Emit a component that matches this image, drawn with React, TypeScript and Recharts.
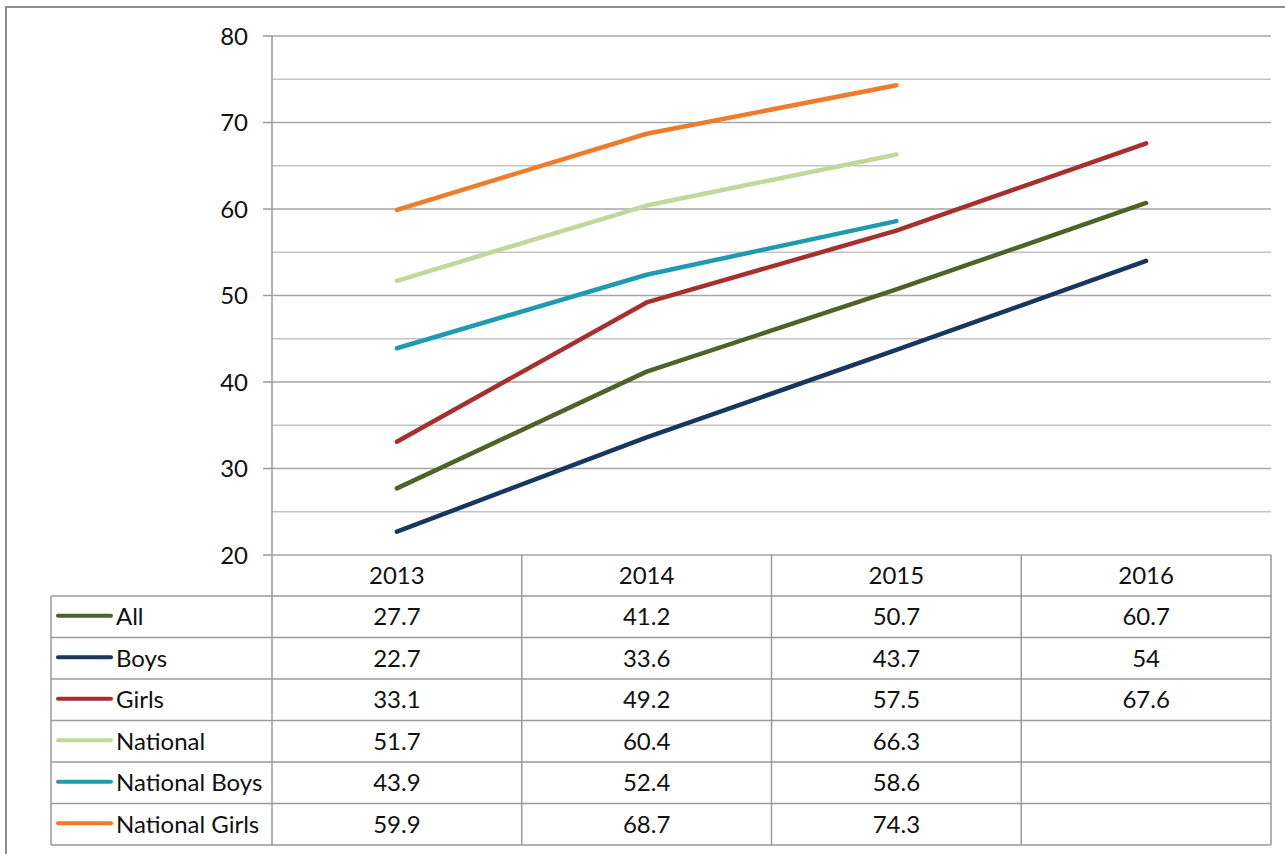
import React from "react";
import { LineChart, Line, XAxis, YAxis, CartesianGrid, ReferenceLine } from "recharts";

const years = ["2013", "2014", "2015", "2016"];
const allValues = [27.7, 41.2, 50.7, 60.7];
const boysValues = [22.7, 33.6, 43.7, 54];
const girlsValues = [33.1, 49.2, 57.5, 67.6];
const nationalValues = [51.7, 60.4, 66.3, null];
const nationalBoysValues = [43.9, 52.4, 58.6, null];
const nationalGirlsValues = [59.9, 68.7, 74.3, null];
const yTicks = [20, 30, 40, 50, 60, 70, 80];
const yMinorTicks = [25, 35, 45, 55, 65, 75];

const seriesList = [
  { key: "all", name: "All", values: allValues, color: "#4f6228" },
  { key: "boys", name: "Boys", values: boysValues, color: "#17375e" },
  { key: "girls", name: "Girls", values: girlsValues, color: "#a5302e" },
  { key: "national", name: "National", values: nationalValues, color: "#c3d69b" },
  { key: "nationalBoys", name: "National Boys", values: nationalBoysValues, color: "#1e9bb1" },
  { key: "nationalGirls", name: "National Girls", values: nationalGirlsValues, color: "#f07b2b" },
];

const data = years.map((year, i) => {
  const row: Record<string, any> = { year };
  seriesList.forEach((s) => {
    row[s.key] = s.values[i];
  });
  return row;
});

const FONT = "Lato, 'Open Sans', sans-serif";
const FS = 24;
const W = 1285;
const H = 854;
const PLOT_LEFT = 272;
const PLOT_RIGHT = 1271;
const PLOT_TOP = 36;
const PLOT_BOTTOM = 555;
const TABLE_LEFT = 51;
const TABLE_TOP = 596;
const ROW_H = 41.5;
const BAND = (PLOT_RIGHT - PLOT_LEFT) / years.length;
const LINE_COLOR = "#9a9a9a";
const TEXT_COLOR = "#111";

const TableColumn = (props: any) => {
  const { x, payload, index } = props;
  const half = BAND / 2;
  const tableBottom = TABLE_TOP + ROW_H * seriesList.length;
  const year = payload.value;
  const col = years.indexOf(year);
  return (
    <g>
      {index === 0 && (
        <g>
          <line x1={x - half} x2={x - half} y1={PLOT_BOTTOM} y2={tableBottom} stroke={LINE_COLOR} strokeWidth={1.5} />
          <line x1={TABLE_LEFT} x2={TABLE_LEFT} y1={TABLE_TOP} y2={tableBottom} stroke={LINE_COLOR} strokeWidth={1.5} />
          {seriesList.map((s, r) => (
            <line key={"h" + r} x1={TABLE_LEFT} x2={PLOT_RIGHT} y1={TABLE_TOP + ROW_H * r} y2={TABLE_TOP + ROW_H * r} stroke={LINE_COLOR} strokeWidth={1.5} />
          ))}
          <line x1={TABLE_LEFT} x2={PLOT_RIGHT} y1={tableBottom} y2={tableBottom} stroke={LINE_COLOR} strokeWidth={1.5} />
          {seriesList.map((s, r) => {
            const cy = TABLE_TOP + ROW_H * r + ROW_H / 2;
            return (
              <g key={"l" + r}>
                <line x1={58} x2={111} y1={cy - 1} y2={cy - 1} stroke={s.color} strokeWidth={4} strokeLinecap="round" />
                <text x={116} y={cy + 8.5} fontSize={FS} fontFamily={FONT} fill={TEXT_COLOR}>{s.name}</text>
              </g>
            );
          })}
        </g>
      )}
      <line x1={x + half} x2={x + half} y1={PLOT_BOTTOM} y2={tableBottom} stroke={LINE_COLOR} strokeWidth={1.5} />
      <text x={x} y={583.5} textAnchor="middle" fontSize={FS} fontFamily={FONT} fill={TEXT_COLOR}>{year}</text>
      {seriesList.map((s, r) => {
        const v = s.values[col];
        const cy = TABLE_TOP + ROW_H * r + ROW_H / 2;
        return v === null || v === undefined ? null : (
          <text key={"v" + r} x={x} y={cy + 8.5} textAnchor="middle" fontSize={FS} fontFamily={FONT} fill={TEXT_COLOR}>
            {String(v)}
          </text>
        );
      })}
    </g>
  );
};

export default function App() {
  return (
    <div style={{ position: "absolute", left: 0, top: 0, width: W, height: H, background: "#fff", overflow: "hidden" }}>
      <div style={{ position: "absolute", left: 5, top: 6, width: W + 20, height: H + 20, border: "2px solid #8c8c8c", boxSizing: "border-box" }} />
      <div style={{ position: "absolute", left: 0, top: 0 }}>
        <LineChart width={W} height={H} data={data} margin={{ top: PLOT_TOP, right: W - PLOT_RIGHT, bottom: 0, left: 0 }}>
          <CartesianGrid horizontal vertical={false} stroke="#a6a6a6" strokeWidth={1.5} />
          {yMinorTicks.map((t) => (
            <ReferenceLine key={t} y={t} stroke="#c4c4c4" strokeWidth={1.5} />
          ))}
          <XAxis
            dataKey="year"
            height={H - PLOT_BOTTOM}
            padding={{ left: BAND / 2, right: BAND / 2 }}
            axisLine={false}
            tickLine={false}
            interval={0}
            tick={<TableColumn />}
          />
          <YAxis
            width={PLOT_LEFT}
            domain={[20, 80]}
            ticks={yTicks}
            type="number"
            allowDataOverflow
            tickSize={9}
            tickMargin={15}
            axisLine={{ stroke: LINE_COLOR, strokeWidth: 1.5 }}
            tickLine={{ stroke: LINE_COLOR, strokeWidth: 1.5 }}
            tick={{ fontSize: FS, fontFamily: FONT, fill: TEXT_COLOR }}
          />
          {seriesList.map((s) => (
            <Line
              key={s.key}
              type="linear"
              dataKey={s.key}
              name={s.name}
              stroke={s.color}
              strokeWidth={4.5}
              strokeLinecap="round"
              strokeLinejoin="round"
              dot={false}
              activeDot={false}
              connectNulls={false}
              isAnimationActive={false}
            />
          ))}
        </LineChart>
      </div>
    </div>
  );
}
